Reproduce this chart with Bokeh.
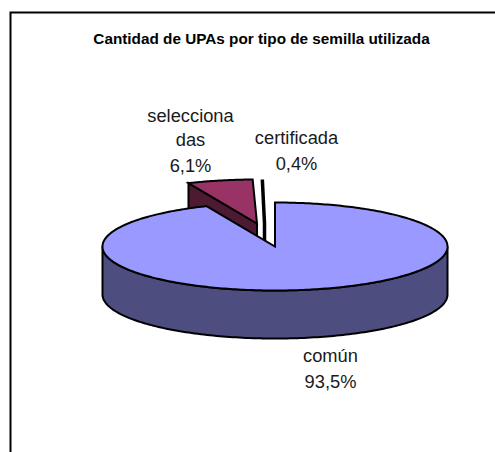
import numpy as np
from bokeh.core.properties import value
from bokeh.embed import file_html
from bokeh.models import Range1d
from bokeh.plotting import figure
from bokeh.resources import INLINE

title_text = "Cantidad de UPAs por tipo de semilla utilizada"
categories = ["común", "seleccionadas", "certificada"]
percent_values = [93.5, 6.1, 0.4]
percent_labels = ["93,5%", "6,1%", "0,4%"]
label_lines = [["común", "93,5%"], ["selecciona", "das", "6,1%"], ["certificada", "0,4%"]]

# layout, in page pixels
W, H = 495, 452
CX, CY, RX, RY, DEPTH = 274.5, 246, 172.5, 44, 48
LABEL_POS = [(330, [355, 381]), (190, [115, 139, 165]), (296, [137, 163])]
OFFSETS = [(0, 0), (-18, -23), (-10.5, -23)]
TOP = ["#9999FF", "#993366", "#000000"]
SIDE = ["#4D4D80", "#4D1A33", "#000000"]

fracs = np.array(percent_values) / 100
ends = np.cumsum(fracs) * 2 * np.pi
starts = ends - fracs * 2 * np.pi
starts[-1], ends[-1] = starts[-1], 2 * np.pi


def rim(t, dx=0.0, dy=0.0):
    return CX + dx + RX * np.sin(t), CY + dy - RY * np.cos(t)


p = figure(width=W, height=H, output_backend="svg", toolbar_location=None,
           x_range=Range1d(0, W), y_range=Range1d(H, 0), min_border=0,
           background_fill_color="white", border_fill_color="white")
p.axis.visible = False
p.grid.visible = False
p.outline_line_color = None

# chart frame (open at the right and bottom edges of the page)
p.line([10, 10, W], [H, 12, 12], line_color="black", line_width=2, line_join="miter")

# seleccionadas: exploded slice, with its cut face
dx, dy = OFFSETS[1]
t = np.linspace(starts[1], ends[1], 40)
x, y = rim(t, dx, dy)
tip = (CX + dx, CY + dy)
p.patch([tip[0], x[0], x[0], tip[0]], [tip[1], y[0], y[0] + DEPTH, tip[1] + DEPTH],
        fill_color=SIDE[1], line_color="black", line_width=2, line_join="miter")
p.patch(np.r_[tip[0], x], np.r_[tip[1], y], fill_color=TOP[1],
        line_color="black", line_width=2, line_join="miter")

# certificada: sliver so thin that only its outline shows
dx, dy = OFFSETS[2]
mid = (starts[2] + ends[2]) / 2
x0, y0 = rim(mid, dx, dy)
p.line([x0, CX + dx, CX + dx], [y0, CY + dy, CY + dy + DEPTH],
       line_color="black", line_width=3.5, line_join="miter")

# común: side wall, then top face
t = np.linspace(np.pi / 2, 3 * np.pi / 2, 160)
x, y = rim(t)
p.patch(np.r_[x, x[::-1]], np.r_[y, y[::-1] + DEPTH], fill_color=SIDE[0],
        line_color="black", line_width=2, line_join="miter")
t = np.linspace(starts[0], ends[0], 360)
x, y = rim(t)
p.patch(np.r_[CX, x], np.r_[CY, y], fill_color=TOP[0],
        line_color="black", line_width=2, line_join="miter")

# title and labels
p.text([261], [38], text=[title_text], text_font=value("Liberation Sans"),
       text_font_style="bold", text_font_size="15.3px", text_color="black",
       text_align="center", text_baseline="middle")
for lines, (lx, lys) in zip(label_lines, LABEL_POS):
    p.text([lx] * len(lines), lys, text=lines, text_font=value("Liberation Sans"),
           text_font_size="18.3px", text_color="#1a1a1a",
           text_align="center", text_baseline="middle")

open("out.html", "w").write(file_html(p, INLINE))
